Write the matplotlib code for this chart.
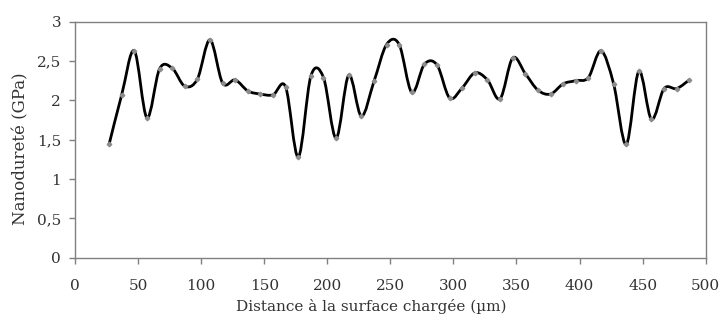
import numpy as np
import matplotlib
matplotlib.use("Agg")
import matplotlib.pyplot as plt
from matplotlib.path import Path
from matplotlib.patches import PathPatch
from matplotlib.ticker import FuncFormatter

# distance from the loaded surface (um) and nanohardness (GPa)
distance = [27, 37, 47, 57, 67, 77, 87, 97, 107, 117, 127, 137, 147, 157, 167,
            177, 187, 197, 207, 217, 227, 237, 247, 257, 267, 277, 287, 297,
            307, 317, 327, 337, 347, 357, 367, 377, 387, 397, 407, 417, 427,
            437, 447, 457, 467, 477, 487]
hardness = [1.44, 2.07, 2.63, 1.78, 2.40, 2.41, 2.18, 2.27, 2.77, 2.22, 2.26,
            2.12, 2.08, 2.07, 2.17, 1.28, 2.31, 2.29, 1.52, 2.32, 1.80, 2.24,
            2.71, 2.71, 2.10, 2.46, 2.45, 2.03, 2.16, 2.35, 2.26, 2.02, 2.54,
            2.34, 2.13, 2.08, 2.21, 2.25, 2.29, 2.63, 2.21, 1.44, 2.37, 1.76,
            2.15, 2.15, 2.26]
x_ticks = [0, 50, 100, 150, 200, 250, 300, 350, 400, 450, 500]
y_ticks = [0, 0.5, 1, 1.5, 2, 2.5, 3]

plt.rcParams['font.family'] = ['DejaVu Serif']

fig = plt.figure(figsize=(7.22, 3.2), dpi=100)
ax = fig.add_axes([0.1039, 0.1947, 0.8735, 0.7375])

# smoothed line like excel (catmull-rom as cubic bezier)
pts = np.column_stack([distance, hardness]).astype(float)
verts = [pts[0]]
codes = [Path.MOVETO]
n = len(pts)
for i in range(n - 1):
    p0 = pts[i - 1] if i > 0 else pts[i]
    p1 = pts[i]
    p2 = pts[i + 1]
    p3 = pts[i + 2] if i + 2 < n else pts[i + 1]
    c1 = p1 + (p2 - p0) / 6.0
    c2 = p2 - (p3 - p1) / 6.0
    verts += [c1, c2, p2]
    codes += [Path.CURVE4] * 3
ax.add_patch(PathPatch(Path(verts, codes), fill=False, edgecolor='black',
                       lw=2.0, capstyle='round', joinstyle='round', zorder=2))
ax.plot(distance, hardness, linestyle='none', marker='D', markersize=2.3,
        color='#8c8c8c', zorder=3)

ax.set_xlim(0, 500)
ax.set_ylim(0, 3)
ax.set_xticks(x_ticks)
ax.set_yticks(y_ticks)
ax.yaxis.set_major_formatter(FuncFormatter(lambda v, p: ('%g' % v).replace('.', ',')))
ax.tick_params(direction='out', length=4, width=1, color='#808080',
               labelsize=11, labelcolor='#333333')
ax.tick_params(axis='x', pad=11)
ax.tick_params(axis='y', pad=6)
for s in ax.spines.values():
    s.set_color('#808080')
    s.set_linewidth(1)

ax.set_xlabel('Distance à la surface chargée (µm)', fontsize=11,
              color='#333333')
ax.xaxis.set_label_coords(0.469, -0.176)
ax.set_ylabel('Nanodureté (GPa)', fontsize=12, color='#333333')
ax.yaxis.set_label_coords(-0.072, 0.463)

fig.savefig('out.png', dpi=100)
